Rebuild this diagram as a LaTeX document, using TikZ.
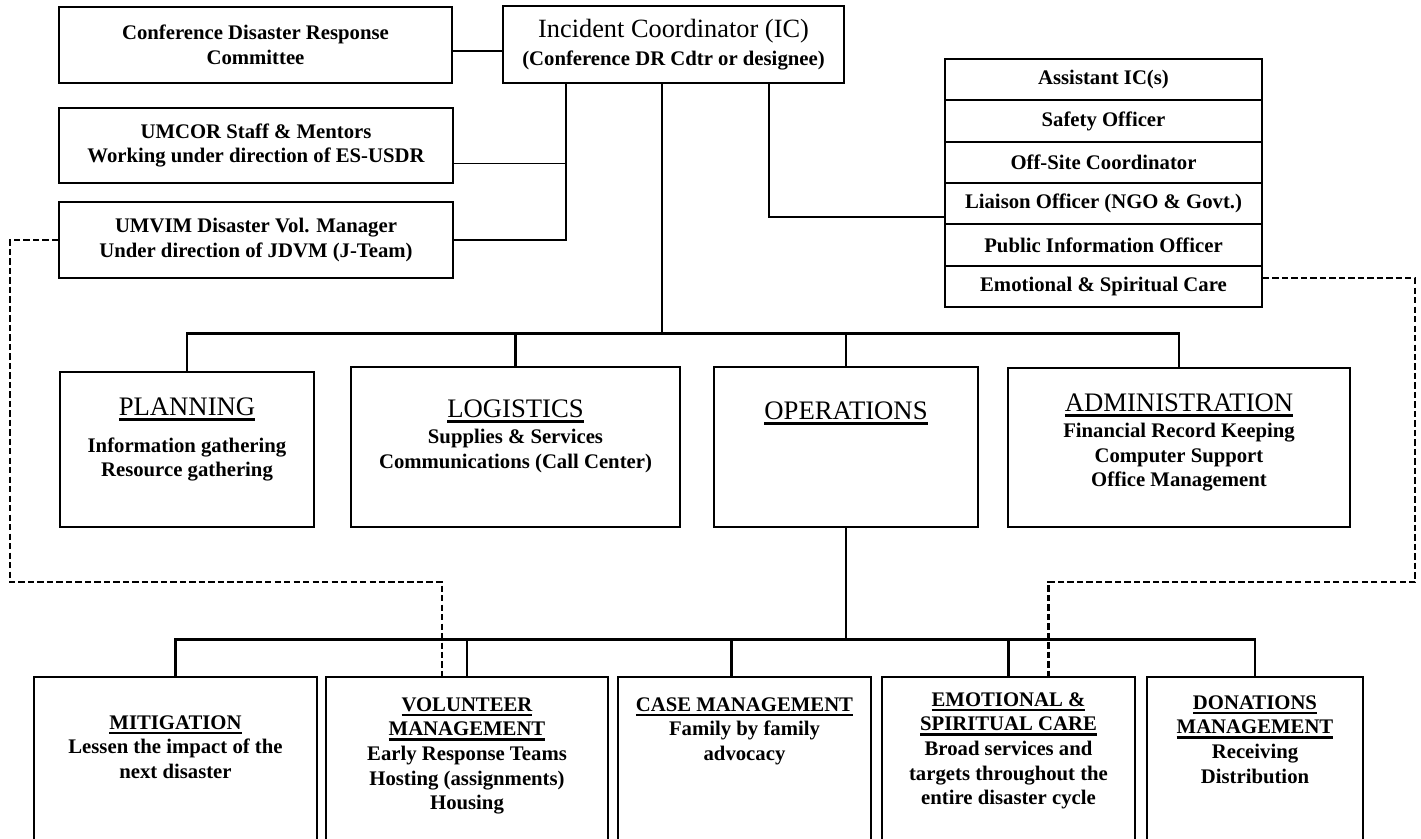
\documentclass[tikz,border=0pt]{standalone}
\usepackage{fontspec}
\setmainfont{Liberation Serif}
\newcommand\hd[1]{\vtop{\hbox{#1}\kern1.3pt\hrule height1.4pt}}
\newcommand\hdl[1]{\vtop{\hbox{\mdseries\fontsize{15.2}{17}\selectfont #1}\kern1.4pt\hrule height1.8pt}}

\begin{document}
\begin{tikzpicture}[x=0.02cm,y=-0.02cm,
  every node/.style={font=\bfseries\fontsize{11.8}{14}\selectfont},
  unit/.style={draw,rectangle,line width=1pt,inner sep=0pt,align=center},
  txt/.style={anchor=north,align=center,inner sep=0pt},
  link/.style={line width=1pt},
  bus/.style={line width=1.6pt},
  dotlink/.style={line width=1.2pt,dash pattern=on 3.6pt off 1.8pt}]
\clip (0,0) rectangle (1421,839);
% top row
\node[unit,minimum width=7.86cm,minimum height=1.52cm] (cdrc)   at (255.5,45)  {Conference Disaster Response\\Committee};
\node[unit,minimum width=6.82cm,minimum height=1.54cm] (ic)     at (673.5,44.5){{\mdseries\fontsize{15}{17}\selectfont Incident Coordinator (IC)}\\[2pt](Conference DR Cdtr or designee)};
\node[unit,minimum width=7.88cm,minimum height=1.50cm] (umcor)  at (256,145.5)  {UMCOR Staff \& Mentors\\Working under direction of ES-USDR};
\node[unit,minimum width=7.88cm,minimum height=1.52cm] (umvim)  at (256,240)    {UMVIM Disaster Vol. Manager\\Under direction of JDVM (J-Team)};
% command staff
\node[unit,minimum width=6.34cm,minimum height=0.826cm] (asst)    at (1103.5,79.7)  {Assistant IC(s)};
\node[unit,minimum width=6.34cm,minimum height=0.826cm] (safety)  at (1103.5,121)   {Safety Officer};
\node[unit,minimum width=6.34cm,minimum height=0.826cm] (offsite) at (1103.5,162.3) {Off-Site Coordinator};
\node[unit,minimum width=6.34cm,minimum height=0.826cm] (liaison) at (1103.5,203.7) {Liaison Officer (NGO \& Govt.)};
\node[unit,minimum width=6.34cm,minimum height=0.826cm] (pio)     at (1103.5,245)   {Public Information Officer};
\node[unit,minimum width=6.34cm,minimum height=0.826cm] (escare)  at (1103.5,286.3) {Emotional \& Spiritual Care};
% sections
\node[unit,minimum width=5.08cm,minimum height=3.10cm,
      label={[txt,yshift=-0.52cm]north:{\hdl{PLANNING}\\[7pt]Information gathering\\Resource gathering}}] (plan) at (187,449.5) {};
\node[unit,minimum width=6.58cm,minimum height=3.20cm,
      label={[txt,yshift=-0.66cm]north:{\hdl{LOGISTICS}\\[1pt]Supplies \& Services\\Communications (Call Center)}}] (log) at (515.5,447) {};
\node[unit,minimum width=5.28cm,minimum height=3.20cm,
      label={[txt,yshift=-0.70cm]north:{\hdl{OPERATIONS}}}] (ops) at (846,447) {};
\node[unit,minimum width=6.84cm,minimum height=3.18cm,
      label={[txt,yshift=-0.52cm]north:{\hdl{ADMINISTRATION}\\[1pt]Financial Record Keeping\\Computer Support\\Office Management}}] (adm) at (1179,447.5) {};
% operations branches
\node[unit,minimum width=5.66cm,minimum height=3.8cm,
      label={[txt,yshift=-0.78cm]north:{\hd{MITIGATION}\\Lessen the impact of the\\next disaster}}] (mit) at (175.5,772) {};
\node[unit,minimum width=5.64cm,minimum height=3.8cm,
      label={[txt,yshift=-0.42cm]north:{\hd{VOLUNTEER}\\\hd{MANAGEMENT}\\Early Response Teams\\Hosting (assignments)\\Housing}}] (vol) at (467,772) {};
\node[unit,minimum width=5.06cm,minimum height=3.8cm,
      label={[txt,yshift=-0.42cm]north:{\hd{CASE MANAGEMENT}\\Family by family\\advocacy}}] (case) at (744.5,772) {};
\node[unit,minimum width=5.06cm,minimum height=3.8cm,
      label={[txt,yshift=-0.32cm]north:{\hd{EMOTIONAL \&}\\\hd{SPIRITUAL CARE}\\Broad services and\\targets throughout the\\entire disaster cycle}}] (emo) at (1008.5,772) {};
\node[unit,minimum width=4.32cm,minimum height=3.8cm,
      label={[txt,yshift=-0.38cm]north:{\hd{DONATIONS}\\\hd{MANAGEMENT}\\Receiving\\Distribution}}] (don) at (1255,772) {};
% connectors
\coordinate (icl) at ([xshift=1.28cm]ic.south west);
\coordinate (icm) at ([xshift=-0.23cm]ic.south);
\coordinate (icr) at ([xshift=-1.52cm]ic.south east);
\coordinate (topbus) at ([yshift=-5cm]icm);
\coordinate (lowbus) at ([yshift=-2.24cm]ops.south);
\draw[link] ([yshift=-0.12cm]cdrc.east) -- ([yshift=-0.12cm]cdrc.east -| ic.west);
\draw[link] (icl) |- (umvim.east);
\draw[link] ([yshift=-0.36cm]umcor.east) -| (icl);
\draw[link] (icr) |- ([yshift=-0.26cm]liaison.west);
\draw[link] (icm) -- (topbus);
\draw[bus]  (plan.north) |- (topbus) -| (adm.north);
\draw[bus]  (log.north) -- (log.north |- topbus);
\draw[bus]  (ops.north) -- (ops.north |- topbus);
\draw[link] (ops.south) -- (lowbus);
\draw[bus]  (mit.north) |- (lowbus) -| (don.north);
\draw[bus]  (vol.north) -- (vol.north |- lowbus);
\draw[bus]  ([xshift=-0.26cm]case.north) -- ([xshift=-0.26cm]case.north |- lowbus);
\draw[bus]  (emo.north) -- (emo.north |- lowbus);
\draw[dotlink] (umvim.west) -- ++(-48,0) |- ([xshift=-0.5cm,yshift=1.88cm]vol.north) -- ([xshift=-0.5cm]vol.north);
\draw[dotlink] ([yshift=0.16cm]escare.east) -- ++(152,0) |- ([xshift=0.8cm,yshift=1.88cm]emo.north) -- ([xshift=0.8cm]emo.north);
\end{tikzpicture}
\end{document}
